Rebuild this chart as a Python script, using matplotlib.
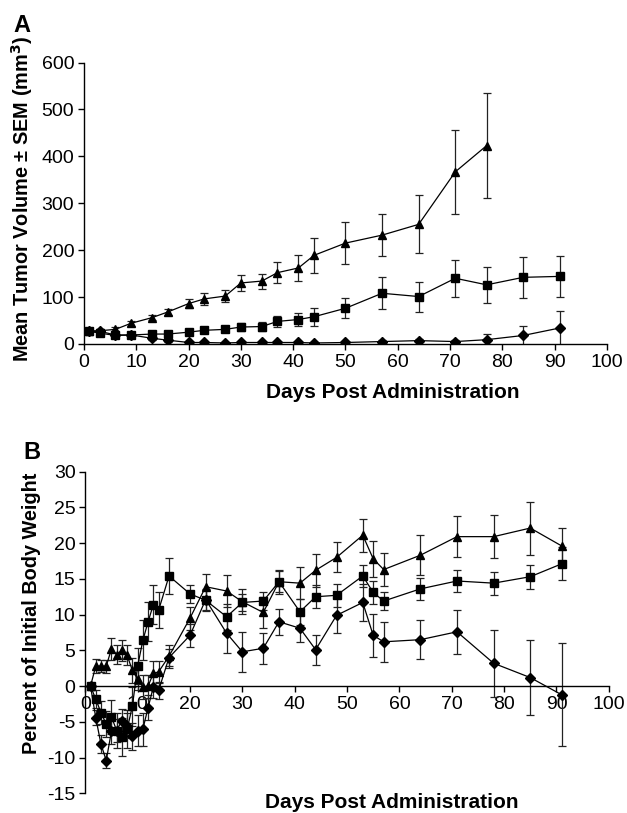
import numpy as np
import matplotlib
matplotlib.use('Agg')
import matplotlib.pyplot as plt

plt.rcParams['font.family'] = ['Liberation Sans', 'DejaVu Sans']
plt.rcParams['axes.unicode_minus'] = False

# ---------------------------------------------------------------- panel A data
days_a = [1, 3, 6, 9, 13, 16, 20, 23, 27, 30, 34, 37, 41, 44, 50, 57, 64, 71,
          77, 84, 91]
tri_a = [27, 28, 31, 44, 56, 68, 86, 96, 102, 130, 134, 152, 162, 189, 215,
         232, 255, 367, 423]
tri_a_err = [4, 4, 4, 5, 5, 7, 9, 12, 12, 17, 16, 22, 27, 37, 44, 45, 62, 90,
             112]
sq_a = [27, 23, 18, 19, 21, 21, 25, 29, 31, 36, 37, 48, 52, 58, 76, 108, 101,
        140, 126, 142, 144]
sq_a_err = [4, 4, 4, 4, 5, 5, 5, 6, 6, 8, 10, 11, 13, 19, 21, 34, 32, 40, 38,
            44, 43]
dia_a = [27, 27, 19, 19, 12, 8, 3, 3, 2, 3, 3, 3, 3, 2, 3, 5, 7, 5, 9, 18, 34]
dia_a_err = [3, 3, 3, 3, 3, 3, 2, 2, 2, 2, 2, 2, 2, 2, 2, 3, 4, 4, 13, 21, 36]

# ---------------------------------------------------------------- panel B data
days_b = [1, 2, 3, 4, 5, 6, 7, 8, 9, 10, 11, 12, 13, 14, 16, 20, 23, 27, 30,
          34, 37, 41, 44, 48, 53, 55, 57, 64, 71, 78, 85, 91]
tri_b = [0, 2.8, 2.8, 2.8, 5.2, 4.4, 5.0, 4.3, 2.2, 1.0, -0.1, 0.0, 1.8, 2.0,
         4.2, 9.5, 13.9, 13.3, 11.8, 10.3, 14.6, 14.4, 16.2, 18.0, 21.1, 17.8,
         16.3, 18.3, 20.9, 20.9, 22.1, 19.6]
tri_b_err = [0.3, 1.0, 0.8, 0.9, 1.5, 1.3, 1.5, 1.4, 1.8, 1.6, 1.7, 1.6, 1.7,
             1.5, 1.6, 1.6, 1.8, 2.3, 1.75, 2.2, 1.5, 2.2, 2.3, 2.1, 2.3, 2.5,
             2.3, 2.8, 2.9, 3.0, 3.7, 2.5]
sq_b = [0, -1.8, -3.7, -5.3, -4.3, -6.2, -7.1, -6.0, -2.8, 2.8, 6.4, 9.0, 11.4,
        10.6, 15.4, 12.9, 12.0, 9.7, 11.7, 11.9, 14.6, 10.4, 12.5, 12.7, 15.4,
        13.1, 11.9, 13.6, 14.7, 14.4, 15.3, 17.1]
sq_b_err = [0.3, 1.2, 1.6, 1.8, 2.4, 2.5, 2.7, 2.6, 2.7, 2.5, 2.8, 2.7, 2.7,
            2.5, 2.5, 1.3, 1.5, 1.8, 1.2, 1.2, 1.7, 1.8, 1.6, 1.6, 1.6, 1.6,
            1.3, 1.5, 1.6, 1.6, 1.7, 2.3]
dia_b = [0, -4.4, -8.1, -10.4, -6.3, -6.2, -4.8, -5.5, -7.0, -6.2, -6.0, -3.0,
         -0.1, -0.6, 4.0, 7.1, 12.1, 7.4, 4.8, 5.3, 9.0, 8.1, 5.1, 9.9, 11.7,
         7.1, 6.2, 6.5, 7.6, 3.2, 1.2, -1.2]
dia_b_err = [0.3, 1.0, 1.3, 1.0, 1.8, 1.6, 1.6, 1.8, 1.9, 2.2, 2.3, 1.7, 1.6,
             1.2, 1.2, 1.6, 1.5, 2.7, 2.8, 2.2, 1.8, 1.9, 2.1, 2.5, 2.6, 3.0,
             2.8, 2.7, 3.1, 4.7, 5.2, 7.2]

# ============================================================================ #

fig = plt.figure(figsize=(6.27, 8.13), dpi=100)

ebar_kw = dict(color='black', lw=0.9, ms=6.3, capsize=2.8, elinewidth=0.9,
               ecolor='#222222', capthick=0.9)


def style_axes(ax):
    for side in ['top', 'right']:
        ax.spines[side].set_visible(False)
    for side in ['left', 'bottom']:
        ax.spines[side].set_linewidth(1.0)
    ax.tick_params(direction='out', length=4, width=1.0, labelsize=14,
                   pad=3)


# panel A
axA = fig.add_axes([0.134, 0.577, 0.834, 0.346])
n_tri = len(tri_a)
axA.errorbar(days_a[:n_tri], tri_a, yerr=tri_a_err, fmt='-^', **ebar_kw)
axA.errorbar(days_a, sq_a, yerr=sq_a_err, fmt='-s', **dict(ebar_kw, ms=6))
axA.errorbar(days_a, dia_a, yerr=dia_a_err, fmt='-D', **dict(ebar_kw, ms=5))
axA.set_xlim(0, 100)
axA.set_ylim(0, 600)
axA.set_xticks(np.arange(0, 101, 10))
axA.set_yticks(np.arange(0, 601, 100))
style_axes(axA)
axA.set_xlabel('Days Post Administration', fontsize=15, fontweight='bold')
axA.xaxis.set_label_coords(0.59, -0.14)
axA.set_ylabel('Mean Tumor Volume \u00b1 SEM (mm$^\\mathbf{3}$)',
               fontsize=14.3, fontweight='bold')
axA.yaxis.set_label_coords(-0.094, 0.515)
fig.text(0.022, 0.983, 'A', fontsize=17, fontweight='bold', va='top')

# panel B
axB = fig.add_axes([0.136, 0.024, 0.835, 0.396])
axB.errorbar(days_b, tri_b, yerr=tri_b_err, fmt='-^', **ebar_kw)
axB.errorbar(days_b, sq_b, yerr=sq_b_err, fmt='-s', **dict(ebar_kw, ms=6))
axB.errorbar(days_b, dia_b, yerr=dia_b_err, fmt='-D', **dict(ebar_kw, ms=5))
axB.set_xlim(0, 100)
axB.set_ylim(-15, 30)
axB.set_xticks(np.arange(0, 101, 10))
axB.set_yticks(np.arange(-15, 31, 5))
style_axes(axB)
axB.spines['bottom'].set_position(('data', 0))
axB.set_xlabel('Days Post Administration', fontsize=15, fontweight='bold')
axB.xaxis.set_label_coords(0.585, 0.003)
axB.set_ylabel('Percent of Initial Body Weight', fontsize=14.3,
               fontweight='bold')
axB.yaxis.set_label_coords(-0.085, 0.56)
fig.text(0.037, 0.458, 'B', fontsize=17, fontweight='bold', va='top')

fig.savefig('out.png', dpi=100)
